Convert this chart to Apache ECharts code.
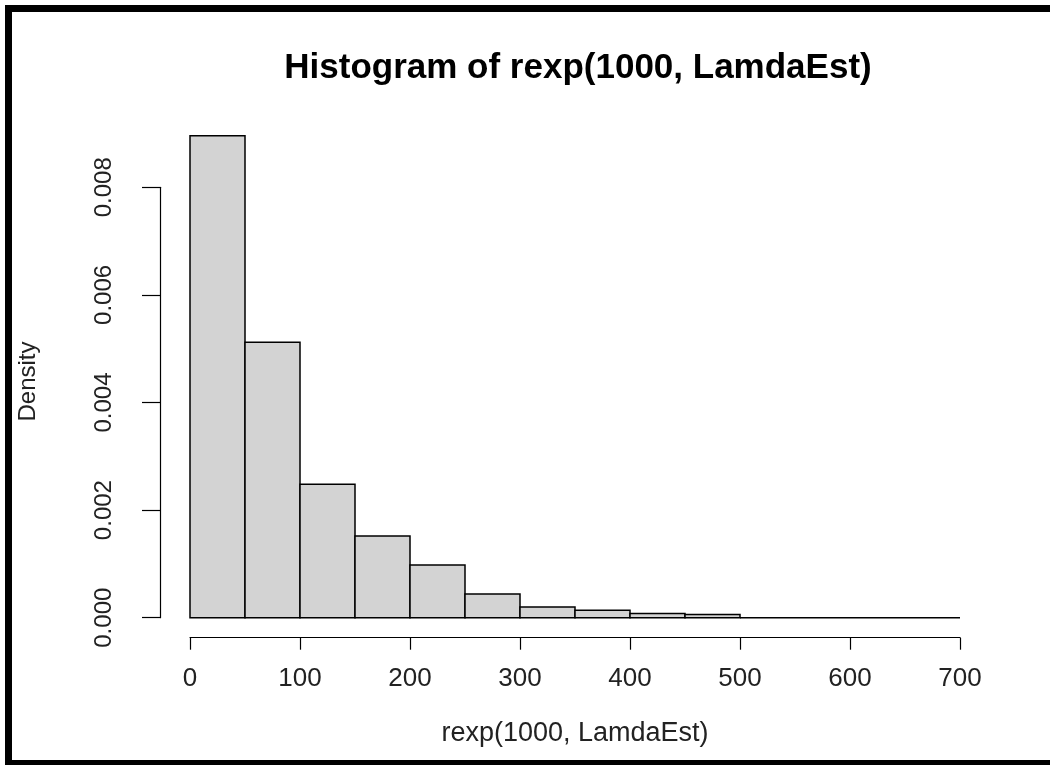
<!DOCTYPE html>
<html>
<head>
<meta charset="utf-8">
<script src="https://cdn.jsdelivr.net/npm/echarts@6/dist/echarts.min.js"></script>
<style>
  html, body { margin: 0; padding: 0; background: #fff; }
  #container { width: 1050px; height: 765px; }
</style>
</head>
<body>
<div id="container"></div>
<script>
// Classes do histograma (largura 50)
var binStarts = [0, 50, 100, 150, 200, 250, 300, 350, 400, 450, 500, 550, 600, 650];
var binEnds = [50, 100, 150, 200, 250, 300, 350, 400, 450, 500, 550, 600, 650, 700];
// Densidades
var densities = [0.00896, 0.00512, 0.00248, 0.00152, 0.00098, 0.00044, 0.0002, 0.00014, 0.00008, 0.00006, 0, 0, 0, 0];
var xTicks = [0, 100, 200, 300, 400, 500, 600, 700];
var yTicks = [0, 0.002, 0.004, 0.006, 0.008];

var histData = binStarts.map(function (s, i) {
    return [s, binEnds[i], densities[i]];
});

var dom = document.getElementById('container');
var myChart = echarts.init(dom, null, { renderer: 'canvas' });

var fontFamily = '"Liberation Sans", Arial, sans-serif';

var option = {
    animation: false,
    backgroundColor: '#fff',
    title: {
        text: 'Histogram of rexp(1000, LamdaEst)',
        left: 573,
        textAlign: 'center',
        top: 46,
        textStyle: { fontFamily: fontFamily, fontSize: 35, fontWeight: 'bold', color: '#000' }
    },
    grid: { left: 190, right: 90, top: 187.3, bottom: 147.3 },
    xAxis: {
        type: 'value',
        min: xTicks[0],
        max: xTicks[xTicks.length - 1],
        interval: 100,
        offset: 20,
        name: 'rexp(1000, LamdaEst)',
        nameLocation: 'middle',
        nameGap: 82,
        nameTextStyle: { fontFamily: fontFamily, fontSize: 27, color: '#222' },
        axisLine: { show: true, onZero: false, lineStyle: { color: '#000', width: 1.2 } },
        axisTick: { show: true, length: 12, lineStyle: { color: '#000', width: 1.2 } },
        axisLabel: { margin: 28, fontFamily: fontFamily, fontSize: 26, color: '#222' },
        splitLine: { show: false }
    },
    yAxis: {
        type: 'value',
        min: yTicks[0],
        max: yTicks[yTicks.length - 1],
        interval: 0.002,
        offset: 30,
        name: 'Density',
        nameLocation: 'middle',
        nameRotate: 90,
        nameGap: 120,
        nameTextStyle: { fontFamily: fontFamily, fontSize: 24, color: '#222', padding: [0, 0, 0, 42] },
        axisLine: { show: true, onZero: false, lineStyle: { color: '#000', width: 1.2 } },
        axisTick: { show: true, length: 18, lineStyle: { color: '#000', width: 1.2 } },
        axisLabel: {
            rotate: 90,
            margin: 44,
            fontFamily: fontFamily,
            fontSize: 24,
            color: '#222',
            formatter: function (v) { return v.toFixed(3); }
        },
        splitLine: { show: false }
    },
    graphic: [{
        type: 'rect',
        shape: { x: 8.5, y: 8.5, width: 1100, height: 755 },
        style: { fill: null, stroke: '#000', lineWidth: 7 },
        silent: true,
        z: 100
    }],
    series: [{
        type: 'custom',
        clip: false,
        data: histData,
        encode: { x: [0, 1], y: 2 },
        renderItem: function (params, api) {
            var p0 = api.coord([api.value(0), 0]);
            var p1 = api.coord([api.value(1), api.value(2)]);
            return {
                type: 'rect',
                shape: { x: p0[0], y: p1[1], width: p1[0] - p0[0], height: p0[1] - p1[1] },
                style: { fill: '#d3d3d3', stroke: '#000', lineWidth: 1.5 }
            };
        }
    }]
};

myChart.setOption(option);

window.addEventListener('resize', function () {
    myChart.resize();
});
</script>
</body>
</html>
